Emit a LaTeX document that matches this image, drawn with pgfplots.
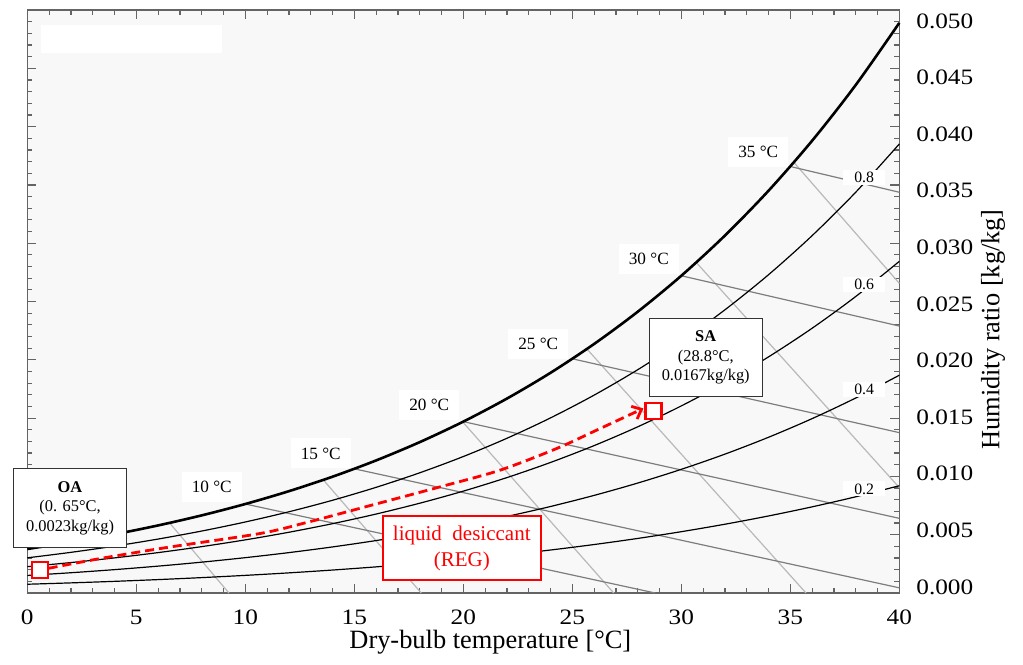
\documentclass[border=0pt]{standalone}
\usepackage{fontspec}
\setmainfont{Liberation Serif}
\newfontfamily\tickfont[FakeStretch=1.15]{Liberation Serif}
\usepackage{pgfplots}
\usepackage{pgfplotstable}
\pgfplotsset{compat=1.18}
\usetikzlibrary{calc,arrows.meta}

\definecolor{bgc}{RGB}{248,248,248}
\definecolor{wbc}{RGB}{125,125,125}
\definecolor{svc}{RGB}{185,185,185}
\definecolor{framec}{RGB}{100,100,100}

% saturation and relative humidity curves, humidity ratio in kg/kg
\pgfplotstableread{
T  sat      r80      r60      r40      r20
0  0.003775 0.003016 0.002259 0.001504 0.000751
2  0.004364 0.003487 0.002611 0.001738 0.000868
4  0.005034 0.004021 0.003011 0.002004 0.001000
6  0.005795 0.004627 0.003464 0.002305 0.001150
8  0.006657 0.005314 0.003977 0.002646 0.001320
10 0.007632 0.006091 0.004557 0.003031 0.001512
12 0.008732 0.006966 0.005210 0.003464 0.001727
14 0.009973 0.007952 0.005945 0.003951 0.001969
16 0.011369 0.009062 0.006772 0.004498 0.002241
18 0.012938 0.010308 0.007699 0.005111 0.002545
20 0.014699 0.011704 0.008737 0.005797 0.002885
22 0.016673 0.013268 0.009898 0.006564 0.003265
24 0.018884 0.015016 0.011195 0.007418 0.003687
26 0.021358 0.016970 0.012641 0.008371 0.004157
28 0.024122 0.019149 0.014252 0.009429 0.004679
30 0.027209 0.021579 0.016045 0.010605 0.005258
32 0.030655 0.024285 0.018037 0.011910 0.005898
34 0.034499 0.027296 0.020250 0.013355 0.006607
36 0.038787 0.030647 0.022706 0.014955 0.007389
38 0.043566 0.034371 0.025427 0.016724 0.008251
40 0.048894 0.038509 0.028442 0.018677 0.009200
}\rhtable

\begin{document}
\begin{tikzpicture}
\begin{axis}[
  scale only axis, width=436pt, height=291.5pt,
  xmin=0, xmax=40, ymin=0, ymax=0.05,
  clip=false,
  axis background/.style={fill=bgc},
  axis line style={framec, line width=0.75pt},
  tick style={framec, line width=0.6pt},
  tick align=inside,
  xtick pos=both, yticklabel pos=right, ytick pos=both,
  xtick={0,5,10,15,20,25,30,35,40},
  xticklabels={0,5,10,15,20,25,30,35,40},
  ytick={0,0.005,0.010,0.015,0.020,0.025,0.030,0.035,0.040,0.045,0.050},
  yticklabels={0.000,0.005,0.010,0.015,0.020,0.025,0.030,0.035,0.040,0.045,0.050},
  scaled y ticks=false,
  minor x tick num=4, minor y tick num=4,
  major tick length=4.5pt, minor tick length=2.5pt,
  tick label style={font=\tickfont\fontsize{11}{12}\selectfont},
  xticklabel style={yshift=-5pt},
  yticklabel style={xshift=5pt, yshift={3pt-0.85pt*\ticknum}},
  xlabel={Dry-bulb temperature [°C]},
  ylabel={Humidity ratio [kg/kg]},
  label style={font=\fontsize{13.2}{15}\selectfont},
  xlabel style={at={(axis description cs:0.531,-0.096)}, anchor=base},
  ylabel style={at={(axis description cs:1.1147,0.452)}, anchor=base},
]
\fill[white] (axis cs:0.61,0.04875) rectangle (axis cs:8.92,0.04627);

% specific volume lines
\addplot[svc, line width=0.6pt] coordinates {(6.54,0.00598) (9.25,0)};
\addplot[svc, line width=0.6pt] coordinates {(13.58,0.00970) (18.07,0)};
\addplot[svc, line width=0.6pt] coordinates {(19.97,0.01468) (26.90,0)};
\addplot[svc, line width=0.6pt] coordinates {(25.67,0.02093) (35.72,0)};
\addplot[svc, line width=0.6pt] coordinates {(30.68,0.02836) (40,0.00904)};
\addplot[svc, line width=0.6pt] coordinates {(35.16,0.03694) (40,0.02656)};

% wet-bulb lines
\addplot[wbc, line width=0.6pt] coordinates {(10,0.007632) (28.80,0)};
\addplot[wbc, line width=0.6pt] coordinates {(15,0.010650) (40,0.000443)};
\addplot[wbc, line width=0.6pt] coordinates {(20,0.014699) (40,0.006405)};
\addplot[wbc, line width=0.6pt] coordinates {(25,0.020087) (40,0.013753)};
\addplot[wbc, line width=0.6pt] coordinates {(30,0.027209) (40,0.022896)};
\addplot[wbc, line width=0.6pt] coordinates {(35,0.036580) (40,0.034369)};

% relative humidity
\addplot[black, line width=0.6pt, smooth] table[x=T, y=r80] {\rhtable};
\addplot[black, line width=0.6pt, smooth] table[x=T, y=r60] {\rhtable};
\addplot[black, line width=0.6pt, smooth] table[x=T, y=r40] {\rhtable};
\addplot[black, line width=0.6pt, smooth] table[x=T, y=r20] {\rhtable};
\addplot[black, line width=1.3pt, smooth] table[x=T, y=sat] {\rhtable};

% curve labels
\begin{scope}[every node/.style={fill=white, inner sep=1pt, font=\fontsize{8.6}{10}\selectfont, minimum width=30pt, minimum height=15pt}]
\node at (axis cs:8.46,0.00910) {10 °C};
\node at (axis cs:13.46,0.01197) {15 °C};
\node at (axis cs:18.44,0.01611) {20 °C};
\node at (axis cs:23.44,0.02137) {25 °C};
\node at (axis cs:28.51,0.02864) {30 °C};
\node at (axis cs:33.53,0.03785) {35 °C};
\end{scope}
\begin{scope}[every node/.style={fill=white, inner sep=1pt, font=\fontsize{7.9}{9}\selectfont, minimum width=21pt, minimum height=7.5pt}]
\node at (axis cs:38.39,0.03564) {0.8};
\node at (axis cs:38.39,0.02648) {0.6};
\node at (axis cs:38.39,0.01749) {0.4};
\node at (axis cs:38.39,0.00892) {0.2};
\end{scope}

% process
\addplot[red, line width=1.4pt, smooth, dash pattern=on 4.5pt off 2.5pt,
  -{Straight Barb[length=4pt,width=7pt]}] coordinates {
  (0.98,0.00212) (3.33,0.00295) (6.39,0.00390) (10.67,0.00510)
  (12.82,0.00605) (15.87,0.00757) (18.93,0.00910) (21.68,0.01053)
  (24.28,0.01239) (26.12,0.01397) (28.26,0.01583)
};
\addplot[only marks, mark=square*, mark size=4pt,
  mark options={draw=red, fill=white, line width=1.2pt}] coordinates {
  (0.57,0.00195) (28.72,0.01561)
};

\node[draw=black!80, fill=white, line width=0.6pt, minimum width=56.7pt, minimum height=39.5pt,
  align=center, inner sep=1pt, font=\fontsize{8.2}{9.7}\selectfont]
  at (axis cs:1.96,0.00729) {\textbf{OA}\\(0. 65°C,\\0.0023kg/kg)};
\node[draw=black!80, fill=white, line width=0.6pt, minimum width=56.5pt, minimum height=39.2pt,
  align=center, inner sep=1pt, font=\fontsize{8.2}{9.7}\selectfont]
  at (axis cs:31.12,0.02019) {\textbf{SA}\\(28.8°C,\\0.0167kg/kg)};
\node[draw=red, fill=white, line width=0.75pt, minimum width=79pt, minimum height=32pt,
  align=center, inner sep=1pt, text=red, font=\fontsize{10.5}{13}\selectfont]
  at (axis cs:19.93,0.00384) {liquid\ \ desiccant\\(REG)};
\end{axis}
\pgfresetboundingbox
\path[use as bounding box] ($(current axis.south west)+(-13.65pt,-35.65pt)$)
  rectangle ($(current axis.north east)+(61.85pt,5pt)$);
\end{tikzpicture}
\end{document}
